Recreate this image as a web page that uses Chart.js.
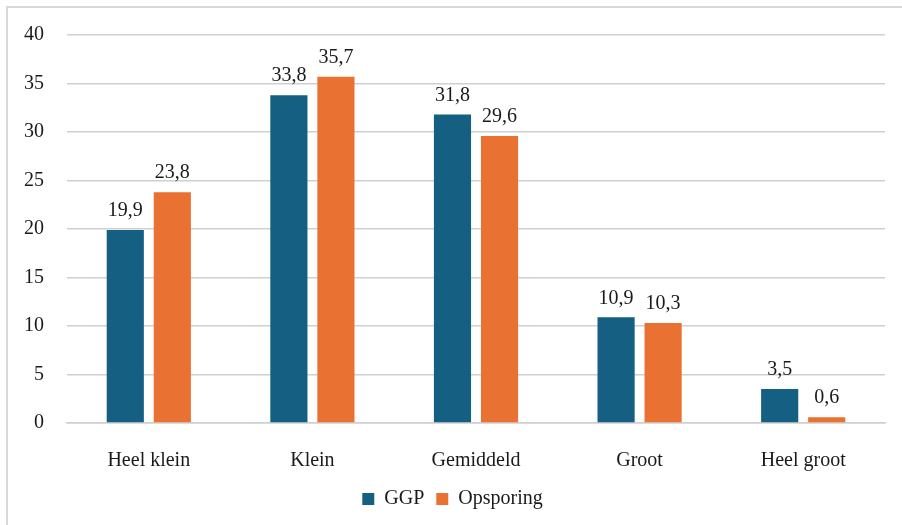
<!DOCTYPE html>
<html lang="nl">
<head>
<meta charset="UTF-8">
<script src="https://cdn.jsdelivr.net/npm/chart.js@4.4.1/dist/chart.umd.min.js"></script>
<style>
  html, body { margin: 0; padding: 0; background: #fff; overflow: hidden; }
  .frame {
    position: absolute; left: 6px; top: 6px; width: 920px; height: 540px;
    border-left: 2px solid #d9d9d9; border-top: 2px solid #d9d9d9;
  }
  #wrap { position: absolute; left: 0; top: 0; width: 902px; height: 525px; }
</style>
</head>
<body>
<div class="frame"></div>
<div id="wrap"><canvas id="myChart"></canvas></div>
<script>
  const categories = ['Heel klein', 'Klein', 'Gemiddeld', 'Groot', 'Heel groot'];
  const ggp = [19.9, 33.8, 31.8, 10.9, 3.5];
  const opsporing = [23.8, 35.7, 29.6, 10.3, 0.6];
  const yTicks = [0, 5, 10, 15, 20, 25, 30, 35, 40];

  const serif = '"Liberation Serif", "DejaVu Serif", serif';

  // waarden boven de staven
  const valueLabels = {
    id: 'valueLabels',
    afterDatasetsDraw(chart) {
      const {ctx} = chart;
      ctx.save();
      ctx.font = '20px ' + serif;
      ctx.fillStyle = '#1a1a1a';
      ctx.textAlign = 'center';
      ctx.textBaseline = 'bottom';
      chart.data.datasets.forEach((ds, i) => {
        chart.getDatasetMeta(i).data.forEach((bar, j) => {
          const txt = ds.data[j].toFixed(1).replace('.', ',');
          ctx.fillText(txt, bar.x, bar.y - 9);
        });
      });
      ctx.restore();
    }
  };

  new Chart(document.getElementById('myChart'), {
    type: 'bar',
    data: {
      labels: categories,
      datasets: [
        {label: 'GGP', data: ggp, backgroundColor: '#156082'},
        {label: 'Opsporing', data: opsporing, backgroundColor: '#E97132'}
      ]
    },
    plugins: [valueLabels],
    options: {
      responsive: true,
      maintainAspectRatio: false,
      animation: false,
      layout: {padding: {left: 20, right: 17, top: 26, bottom: 6}},
      datasets: {bar: {categoryPercentage: 0.575, barPercentage: 0.79}},
      scales: {
        x: {
          afterFit(scale) { scale.height = 54; },
          grid: {display: false},
          border: {color: '#d0d0d0', width: 1.5},
          ticks: {color: '#1a1a1a', padding: 18, font: {family: serif, size: 20}}
        },
        y: {
          min: 0, max: 40,
          afterFit(scale) { scale.width = 47; },
          afterBuildTicks(scale) { scale.ticks = yTicks.map(v => ({value: v})); },
          grid: {color: '#d0d0d0', lineWidth: 1.5, drawTicks: false},
          border: {display: false},
          ticks: {color: '#1a1a1a', padding: 23, font: {family: serif, size: 20}}
        }
      },
      plugins: {
        legend: {
          position: 'bottom',
          labels: {
            color: '#1a1a1a', boxWidth: 12, boxHeight: 12, padding: 12,
            font: {family: serif, size: 20}
          }
        },
        tooltip: {enabled: false}
      }
    }
  });
</script>
</body>
</html>
